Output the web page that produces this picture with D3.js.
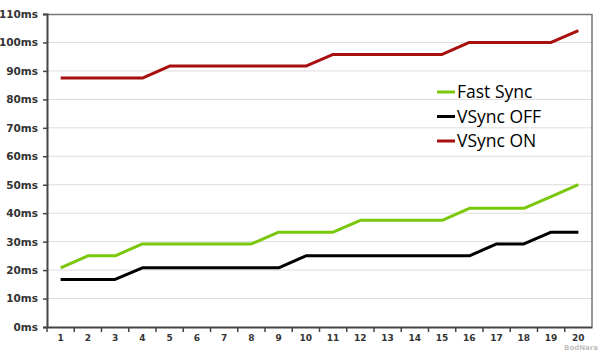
<!DOCTYPE html>
<html>
<head>
<meta charset="utf-8">
<script src="https://cdn.jsdelivr.net/npm/d3@7"></script>
<style>
body{margin:0;background:#fff;}
</style>
</head>
<body>
<svg id="drawing_region"></svg>
<script>
const runs = d3.range(1, 21);
const yTicks = [0, 10, 20, 30, 40, 50, 60, 70, 80, 90, 100, 110];
const fastSync = [20.8, 25, 25, 29.2, 29.2, 29.2, 29.2, 29.2, 33.3, 33.3, 33.3, 37.5, 37.5, 37.5, 37.5, 41.7, 41.7, 41.7, 45.8, 50];
const vsyncOff = [16.7, 16.7, 16.7, 20.8, 20.8, 20.8, 20.8, 20.8, 20.8, 25, 25, 25, 25, 25, 25, 25, 29.2, 29.2, 33.3, 33.3];
const vsyncOn = [87.5, 87.5, 87.5, 87.5, 91.7, 91.7, 91.7, 91.7, 91.7, 91.7, 95.8, 95.8, 95.8, 95.8, 95.8, 100, 100, 100, 100, 104.2];
const seriesNames = ["Fast Sync", "VSync OFF", "VSync ON"];
const seriesColors = ["#7ac70c", "#000000", "#a80f0f"];

const config = {width:600, height:352, margin:{top:14, left:47, right:8, bottom:25}};
const innerW = config.width - config.margin.left - config.margin.right;
const innerH = config.height - config.margin.top - config.margin.bottom;

const svg = d3.select("#drawing_region")
    .attr("width", config.width)
    .attr("height", config.height);

const chart = svg.append("g")
    .attr("transform", `translate(${config.margin.left},${config.margin.top})`);

const xscale = d3.scaleBand().domain(runs).range([0, innerW]);
const yscale = d3.scaleLinear().domain([0, 110]).range([innerH, 0]);

// gridlines
chart.append("g").selectAll("line")
    .data(yTicks.filter(d => d > 0 && d < 110))
    .enter().append("line")
    .attr("x1", 0).attr("x2", innerW)
    .attr("y1", d => yscale(d)).attr("y2", d => yscale(d))
    .attr("stroke", "#dcdcdc").attr("stroke-width", 1);

// frame top/right
chart.append("path")
    .attr("d", `M0,0.5H${innerW}V${innerH}`)
    .attr("fill", "none").attr("stroke", "#777").attr("stroke-width", 1.5);

// y axis
const yaxis = d3.axisLeft(yscale).tickValues(yTicks).tickSize(4).tickFormat(d => d + "ms");
const yg = chart.append("g").call(yaxis);
yg.select(".domain").attr("stroke", "#444").attr("stroke-width", 2);
yg.selectAll(".tick line").attr("stroke", "#444").attr("stroke-width", 1.5);
yg.selectAll("text").attr("fill", "#333").attr("font-family", "DejaVu Sans").attr("font-weight", "bold")
    .attr("font-size", "10.5px").attr("x", -9);

// x axis
const xaxis = d3.axisBottom(xscale).tickSize(0).tickPadding(8);
const xg = chart.append("g").attr("transform", `translate(0,${innerH})`).call(xaxis);
xg.select(".domain").attr("stroke", "#444").attr("stroke-width", 2);
xg.selectAll("text").attr("fill", "#333").attr("font-family", "DejaVu Sans").attr("font-weight", "bold")
    .attr("font-size", "9px");
xg.selectAll(".sep")
    .data(runs)
    .enter().append("line")
    .attr("x1", d => xscale(d)).attr("x2", d => xscale(d))
    .attr("y1", 0).attr("y2", 5)
    .attr("stroke", "#444").attr("stroke-width", 1.5);

// lines
const line = d3.line()
    .x((d, i) => xscale(runs[i]) + xscale.bandwidth() / 2)
    .y(d => yscale(d));

[fastSync, vsyncOff, vsyncOn].forEach((vals, i) => {
    chart.append("path")
        .datum(vals)
        .attr("d", line)
        .attr("fill", "none")
        .attr("stroke", seriesColors[i])
        .attr("stroke-width", 3)
        .attr("stroke-linejoin", "round");
});

// legend
const legend = svg.append("g").attr("transform", "translate(437,92)");
seriesNames.forEach((name, i) => {
    const g = legend.append("g").attr("transform", `translate(0,${i * 24.5})`);
    g.append("line").attr("x1", 0).attr("x2", 18).attr("y1", 0).attr("y2", 0)
        .attr("stroke", seriesColors[i]).attr("stroke-width", 3);
    g.append("text").attr("x", 20).attr("y", 6)
        .attr("font-family", "Open Sans").attr("font-size", "17.5px").attr("fill", "#000")
        .text(name);
});

// watermark (small, tucked into the bottom-right corner)
svg.append("text")
    .attr("x", 598).attr("y", 350)
    .attr("text-anchor", "end")
    .attr("font-family", "DejaVu Sans").attr("font-weight", "bold")
    .attr("font-size", "7px").attr("fill", "#999").attr("opacity", 0.6)
    .text("BodNara");
</script>
</body>
</html>
